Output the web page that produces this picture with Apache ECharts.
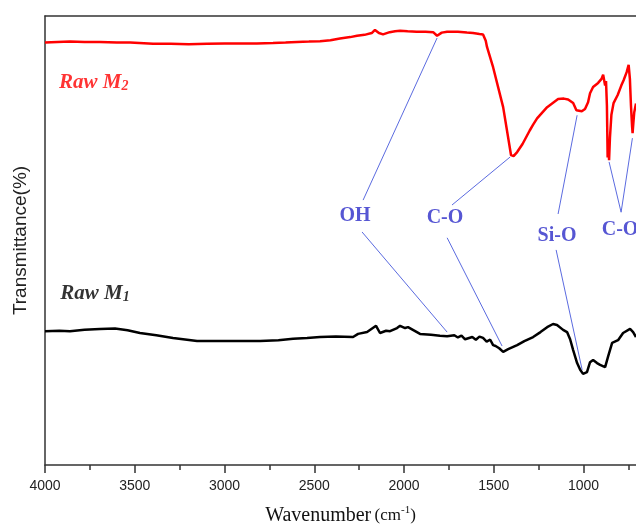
<!DOCTYPE html>
<html>
<head>
<meta charset="utf-8">
<script src="https://cdn.jsdelivr.net/npm/echarts@6/dist/echarts.min.js"></script>
<style>
html,body{margin:0;padding:0;background:#fff;}
#chart{width:636px;height:530px;}
</style>
</head>
<body>
<div id="chart"></div>
<script>
// Raw M2 (red, upper trace)
const waveM2 = [4000,3861,3780,3694,3600,3526,3398,3300,3200,3097,3000,2914,2820,2730,2660,2596,2530,2468,2410,2357,2300,2262,2220,2180,2162,2140,2117,2080,2050,2022,1980,1930,1880,1838,1816,1790,1760,1700,1650,1616,1580,1560,1545,1538,1504,1448,1404,1390,1370,1340,1300,1281,1259,1203,1142,1110,1086,1058,1040,1031,1010,992,975,964,947,919,900,891,880,875,870,866,862,858,853,845,833,810,790,777,760,749,742,736,730,727,723,718,708];
const transM2 = [94.1,94.3,94.2,94.2,94.1,94.1,93.8,93.8,93.7,93.8,93.9,93.9,93.9,94.0,94.1,94.2,94.3,94.4,94.6,95.0,95.3,95.6,95.8,96.2,96.9,96.2,95.9,96.4,96.6,96.7,96.6,96.5,96.5,96.4,95.6,96.3,96.5,96.5,96.3,96.2,96.0,95.9,94.5,93.1,88.6,79.7,69.0,68.8,69.7,71.5,74.5,75.8,77.2,79.7,81.5,81.6,81.4,80.6,79.0,78.6,78.8,79.3,80.8,82.8,84.2,85.1,86.0,86.9,84.5,85.5,80.0,68.5,72.0,67.9,73.0,78.0,80.6,82.4,84.5,85.7,87.5,89.1,86.0,80.0,75.5,73.9,76.0,78.5,80.5];

// Raw M1 (black, lower trace)
const waveM1 = [4000,3920,3861,3780,3694,3610,3540,3471,3380,3287,3153,3000,2900,2802,2700,2618,2540,2468,2380,2284,2256,2206,2156,2134,2100,2078,2039,2022,1994,1978,1911,1850,1800,1760,1720,1700,1680,1660,1649,1620,1600,1580,1560,1540,1520,1504,1490,1470,1448,1420,1370,1330,1281,1240,1203,1170,1148,1114,1092,1075,1058,1036,1019,1003,981,964,947,925,908,880,864,841,808,780,741,724,708];
const transM1 = [29.8,29.9,29.8,30.1,30.3,30.4,30.0,29.4,28.9,28.3,27.6,27.6,27.6,27.6,27.8,28.1,28.3,28.5,28.6,28.5,29.2,29.6,31.0,29.4,29.9,29.8,30.5,31.0,30.5,30.7,29.2,29.0,28.8,28.7,28.9,28.4,28.8,28.0,27.8,28.5,27.9,28.6,28.3,27.5,27.9,26.7,26.5,26.0,25.2,25.8,26.7,27.6,28.5,29.6,30.7,31.4,31.2,30.1,29.6,28.0,25.6,22.7,21.2,20.3,20.7,22.9,23.4,22.7,22.3,21.8,24.1,27.2,27.8,29.4,30.3,29.6,28.5];

// x axis ticks
const tickValues = [4000,3500,3000,2500,2000,1500,1000];

// band annotations: label text, label anchor and leader lines [from, to]
const bandNames = ['OH','C-O','Si-O','C-O'];
const bandLabelAt = [[2273,55.5],[1772,55.0],[1148,51.0],[797,52.3]];
const leaderLines = [
  [[2228,59.0],[1816,95.1]],
  [[2234,51.9],[1760,29.6]],
  [[1733,57.9],[1409,68.6]],
  [[1760,50.6],[1454,26.5]],
  [[1142,55.9],[1036,77.9]],
  [[1153,47.9],[1008,21.2]],
  [[791,56.3],[858,67.5]],
  [[791,56.3],[728,72.8]]
];

// sample names next to the traces
const sampleNames = [['Raw M','2'],['Raw M','1']];
const sampleLabelAt = [[3922,85.1],[3915,38.1]];
const sampleColors = ['#ff0000','#000000'];

const zip = (a,b) => a.map((v,i) => [v,b[i]]);

const chart = echarts.init(document.getElementById('chart'));
const axisColor = '#333';
const serif = 'Liberation Serif, Times New Roman, serif';

const option = {
  animation: false,
  backgroundColor: '#fff',
  grid: {left: 45, right: 0, top: 16, bottom: 65, outerBoundsMode: 'none'},
  xAxis: [{
    type: 'value',
    min: 708, max: 4000,
    inverse: true,
    position: 'bottom',
    axisLine: {show: true, onZero: false, lineStyle: {color: axisColor, width: 1.5}},
    axisTick: {show: true, inside: false, length: 8, lineStyle: {color: axisColor, width: 1.5},
      customValues: tickValues},
    minorTick: {show: true, splitNumber: 2, length: 5, lineStyle: {color: axisColor, width: 1.5}},
    axisLabel: {show: true, margin: 14, color: '#222', fontSize: 14,
      fontFamily: 'Liberation Sans, Arial, sans-serif', customValues: tickValues,
      formatter: v => String(v)},
    splitLine: {show: false},
    minorSplitLine: {show: false},
    name: '{w|Wavenumber} {u|(cm}{e|-1}{u|)}',
    nameLocation: 'middle',
    nameGap: 40,
    nameTextStyle: {
      rich: {
        w: {fontFamily: serif, fontSize: 20, color: '#111'},
        u: {fontFamily: serif, fontSize: 17, color: '#111'},
        e: {fontFamily: serif, fontSize: 11, color: '#111', verticalAlign: 'top', padding: [0,0,10,0]}
      }
    }
  }, {
    type: 'value',
    min: 708, max: 4000,
    inverse: true,
    position: 'top',
    axisLine: {show: true, onZero: false, lineStyle: {color: axisColor, width: 1.5}},
    axisTick: {show: false},
    axisLabel: {show: false},
    splitLine: {show: false}
  }],
  yAxis: {
    type: 'value',
    min: 0, max: 100,
    axisLine: {show: true, onZero: false, lineStyle: {color: axisColor, width: 1.5}},
    axisTick: {show: false},
    axisLabel: {show: false},
    splitLine: {show: false},
    name: 'Transmittance(%)',
    nameLocation: 'middle',
    nameRotate: 90,
    nameGap: 15,
    nameTextStyle: {fontFamily: 'Liberation Sans, Arial, sans-serif', fontSize: 19, color: '#222'}
  },
  series: [
    {
      name: 'Raw M2', type: 'line', data: zip(waveM2, transM2),
      showSymbol: false, symbol: 'none',
      lineStyle: {color: '#ff0000', width: 2.5}, z: 3
    },
    {
      name: 'Raw M1', type: 'line', data: zip(waveM1, transM1),
      showSymbol: false, symbol: 'none',
      lineStyle: {color: '#000', width: 2.5}, z: 3
    },
    {
      type: 'lines', coordinateSystem: 'cartesian2d',
      data: leaderLines.map(c => ({coords: c})),
      lineStyle: {color: '#5b6be0', width: 1, opacity: 1}, z: 2
    },
    {
      type: 'scatter', symbolSize: 0,
      data: bandNames.map((n,i) => ({name: n, value: bandLabelAt[i]})),
      label: {show: true, position: 'inside', formatter: '{b}', color: '#2c2cc8',
        fontFamily: serif, fontWeight: 'bold', fontSize: 20},
      z: 4
    },
    {
      type: 'scatter', symbolSize: 0,
      data: sampleNames.map((n,i) => ({
        value: sampleLabelAt[i],
        label: {
          formatter: '{a|' + n[0] + '}{s|' + n[1] + '}',
          rich: {
            a: {color: sampleColors[i], fontFamily: serif, fontWeight: 'bold', fontStyle: 'italic', fontSize: 21},
            s: {color: sampleColors[i], fontFamily: serif, fontWeight: 'bold', fontStyle: 'italic', fontSize: 14, verticalAlign: 'bottom', padding: [6,0,0,0]}
          }
        }
      })),
      label: {show: true, position: 'inside', align: 'left'},
      z: 4
    }
  ]
};
chart.setOption(option);
</script>
</body>
</html>
